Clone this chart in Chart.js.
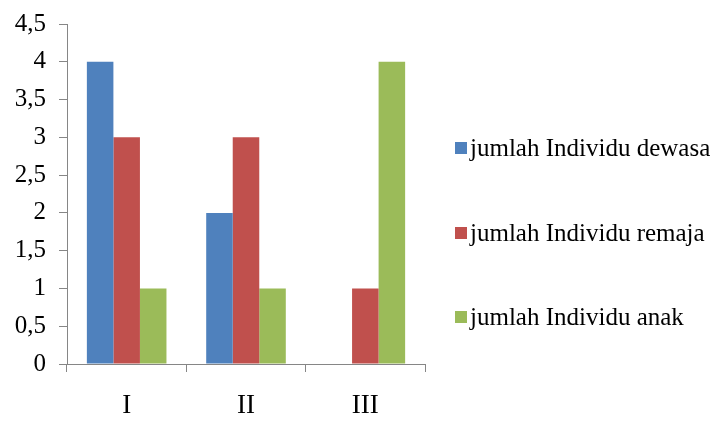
<!DOCTYPE html>
<html>
<head>
<meta charset="utf-8">
<script src="https://cdn.jsdelivr.net/npm/chart.js@4/dist/chart.umd.min.js"></script>
<style>
  html, body { margin: 0; padding: 0; background: #fff; }
  #wrap { width: 718px; height: 421px; }
</style>
</head>
<body>
<div id="wrap"><canvas id="c" width="718" height="421"></canvas></div>
<script>
const categories = ['I', 'II', 'III'];
const dewasa = [4, 2, 0];
const remaja = [3, 3, 1];
const anak = [1, 1, 4];
const seriesNames = ['jumlah Individu dewasa', 'jumlah Individu remaja', 'jumlah Individu anak'];
const seriesColors = ['#4F81BD', '#C0504D', '#9BBB59'];
const yTicks = [0, 0.5, 1, 1.5, 2, 2.5, 3, 3.5, 4, 4.5];

const FONT = '"Liberation Serif", "Times New Roman", serif';

// Legend drawn beside the plot, one row per dataset
const sideLegend = {
  id: 'sideLegend',
  afterDraw(chart) {
    const ctx = chart.ctx;
    const rows = [148, 233, 317];
    ctx.save();
    ctx.font = '25px ' + FONT;
    ctx.textBaseline = 'middle';
    ctx.textAlign = 'left';
    chart.data.datasets.forEach((ds, i) => {
      const y = rows[i];
      ctx.fillStyle = ds.backgroundColor;
      ctx.fillRect(455, y - 6, 12, 12);
      ctx.fillStyle = '#000';
      ctx.fillText(ds.label, 470, y + 1);
    });
    ctx.restore();
  }
};

new Chart(document.getElementById('c'), {
  type: 'bar',
  data: {
    labels: categories,
    datasets: [dewasa, remaja, anak].map((d, i) => ({
      label: seriesNames[i],
      data: d,
      backgroundColor: seriesColors[i],
      borderWidth: 0,
      categoryPercentage: 0.667,
      barPercentage: 1.0
    }))
  },
  options: {
    responsive: false,
    animation: false,
    layout: { padding: { left: 0, right: 293, top: 24, bottom: 0 } },
    plugins: { legend: { display: false }, tooltip: { enabled: false } },
    scales: {
      x: {
        grid: { display: true, drawOnChartArea: false, drawTicks: true, tickLength: 8, color: '#868686', offset: true },
        border: { display: true, color: '#868686', width: 1 },
        ticks: { color: '#000', font: { family: FONT, size: 27 }, padding: 18 },
        afterFit(s) { s.height = 57; s.paddingLeft = 0; s.paddingRight = 0; }
      },
      y: {
        min: 0,
        max: 4.5,
        afterBuildTicks(s) { s.ticks = yTicks.map(v => ({ value: v })); },
        grid: { display: true, drawOnChartArea: false, drawTicks: true, tickLength: 8, color: '#868686' },
        border: { display: true, color: '#868686', width: 1 },
        ticks: {
          color: '#000',
          font: { family: FONT, size: 25 },
          padding: 13,
          callback: v => String(v).replace('.', ',')
        },
        afterFit(s) { s.width = 67; s.paddingTop = 0; s.paddingBottom = 0; }
      }
    }
  },
  plugins: [sideLegend]
});
</script>
</body>
</html>
